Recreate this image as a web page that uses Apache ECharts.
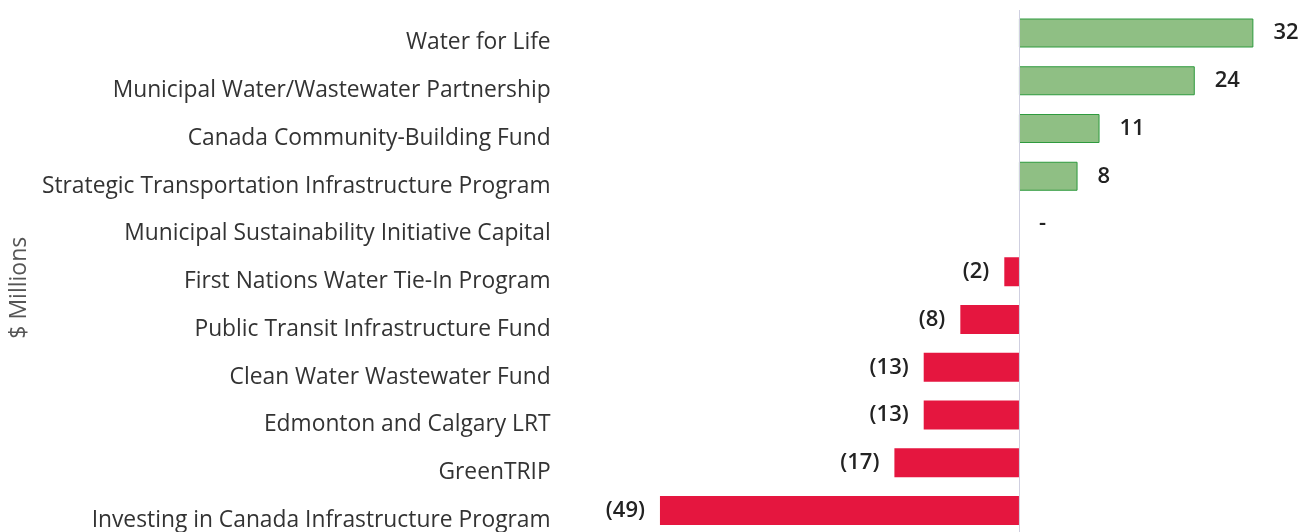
<!DOCTYPE html>
<html>
<head>
<meta charset="utf-8">
<script src="https://cdn.jsdelivr.net/npm/echarts@6/dist/echarts.min.js"></script>
<style>
html,body{margin:0;padding:0;background:#fff;}
#c{width:1315px;height:532px;}
</style>
</head>
<body>
<div id="c"></div>
<script>
const categories = [
  "Water for Life",
  "Municipal Water/Wastewater Partnership",
  "Canada Community-Building Fund",
  "Strategic Transportation Infrastructure Program",
  "Municipal Sustainability Initiative Capital",
  "First Nations Water Tie-In Program",
  "Public Transit Infrastructure Fund",
  "Clean Water Wastewater Fund",
  "Edmonton and Calgary LRT",
  "GreenTRIP",
  "Investing in Canada Infrastructure Program"
];
const values = [32, 24, 11, 8, 0, -2, -8, -13, -13, -17, -49];
const axisName = "$ Millions";

const FONT = "Open Sans";
const chart = echarts.init(document.getElementById('c'));
chart.setOption({
  animation: false,
  grid: {left: 648, top: 33, width: 664, height: 480, containLabel: false},
  xAxis: {
    type: 'value', min: -50, max: 40, show: false
  },
  yAxis: {
    type: 'category', data: categories, inverse: true, boundaryGap: false,
    axisLine: {show: false}, axisTick: {show: false}, splitLine: {show: false},
    axisLabel: {margin: 102, fontFamily: FONT, fontSize: 22.8, color: '#333',
      verticalAlign: 'top', lineHeight: 20},
    name: axisName, nameLocation: 'middle', nameRotate: 90, nameGap: 618,
    nameTextStyle: {fontFamily: FONT, fontSize: 23, color: '#555', padding: [0, 32, 0, 0]}
  },
  series: [{
    type: 'bar',
    barWidth: 29,
    clip: false,
    data: values.map(v => ({
      value: v,
      itemStyle: v > 0
        ? {color: '#8fbf84', borderColor: '#2e9a3e', borderWidth: 1}
        : {color: '#e5163f', borderColor: '#e5163f', borderWidth: 0},
      label: {position: v >= 0 ? 'right' : 'left', distance: v >= 0 ? 20 : 15}
    })),
    label: {
      show: true,
      fontFamily: FONT, fontSize: 22, fontWeight: 600, color: '#222',
      formatter: p => p.value > 0 ? String(p.value) : (p.value < 0 ? '(' + Math.abs(p.value) + ')' : '-')
    },
    markLine: {
      silent: true, symbol: 'none', label: {show: false},
      lineStyle: {color: '#cfcfe0', width: 1, type: 'solid'},
      data: [[{xAxis: 0, y: 10}, {xAxis: 0, y: 532}]]
    }
  }]
});
</script>
</body>
</html>
